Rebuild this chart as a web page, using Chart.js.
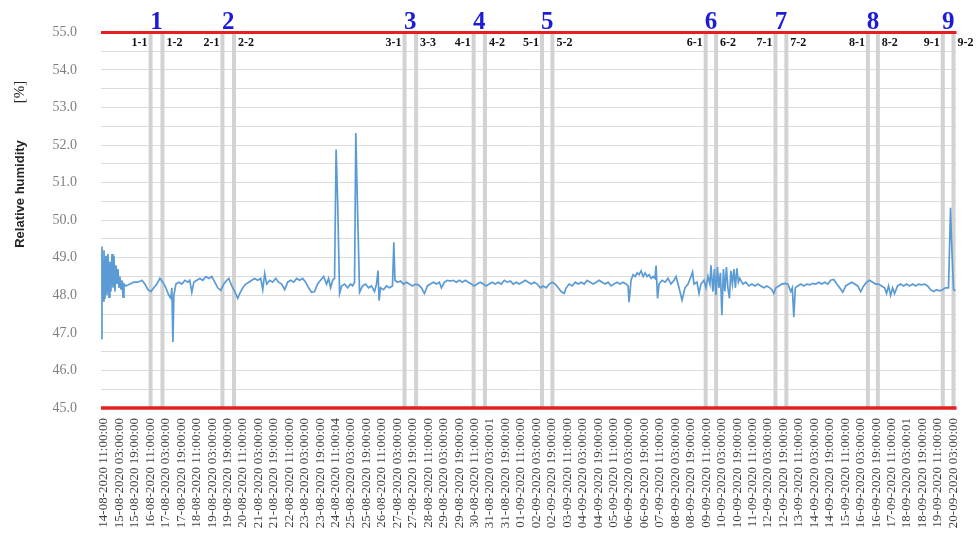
<!DOCTYPE html>
<html lang="en">
<head>
<meta charset="UTF-8">
<title>Relative humidity</title>
<script src="https://cdn.jsdelivr.net/npm/chart.js"></script>
<style>
  body, html {
    margin: 0;
    background: #fff;
  }
  .wrap {
    position: relative;
    width: 979px;
    height: 541px;
  }
</style>
</head>
<body>
<div class="wrap">
  <canvas id="rhChart"></canvas>
</div>

<script>
// x in hours after 14-08-2020 11:00, one tick label every 16 h
var tickLabels = [
  '14-08-2020 11:00:00', '15-08-2020 03:00:00', '15-08-2020 19:00:00', '16-08-2020 11:00:00',
  '17-08-2020 03:00:00', '17-08-2020 19:00:00', '18-08-2020 11:00:00', '19-08-2020 03:00:00',
  '19-08-2020 19:00:00', '20-08-2020 11:00:00', '21-08-2020 03:00:00', '21-08-2020 19:00:00',
  '22-08-2020 11:00:00', '23-08-2020 03:00:00', '23-08-2020 19:00:00', '24-08-2020 11:00:04',
  '25-08-2020 03:00:00', '25-08-2020 19:00:00', '26-08-2020 11:00:00', '27-08-2020 03:00:00',
  '27-08-2020 19:00:00', '28-08-2020 11:00:00', '29-08-2020 03:00:00', '29-08-2020 19:00:00',
  '30-08-2020 11:00:00', '31-08-2020 03:00:01', '31-08-2020 19:00:00', '01-09-2020 11:00:00',
  '02-09-2020 03:00:00', '02-09-2020 19:00:00', '03-09-2020 11:00:00', '04-09-2020 03:00:00',
  '04-09-2020 19:00:00', '05-09-2020 11:00:00', '06-09-2020 03:00:00', '06-09-2020 19:00:00',
  '07-09-2020 11:00:00', '08-09-2020 03:00:00', '08-09-2020 19:00:00', '09-09-2020 11:00:00',
  '10-09-2020 03:00:00', '10-09-2020 19:00:00', '11-09-2020 11:00:00', '12-09-2020 03:00:00',
  '12-09-2020 19:00:00', '13-09-2020 11:00:00', '14-09-2020 03:00:00', '14-09-2020 19:00:00',
  '15-09-2020 11:00:00', '16-09-2020 03:00:00', '16-09-2020 19:00:00', '17-09-2020 11:00:00',
  '18-09-2020 03:00:01', '18-09-2020 19:00:00', '19-09-2020 11:00:00', '20-09-2020 03:00:00'
];
var tickStepHours = 16;

var hours = [
  -3.1, -2.1, -1.0, 0, 1.0, 2.1, 3.1, 4.1, 5.2, 6.2,
  7.2, 8.3, 9.3, 10.3, 11.4, 12.4, 13.4, 14.5, 15.5, 16.5,
  17.6, 18.6, 19.7, 20.7,
  22.8, 26.9, 31.0, 35.2, 39.3, 42.4, 45.5, 48.6, 51.7, 54.8,
  57.9, 61.0, 64.1, 67.2, 69.3, 70.3, 71.4, 72.4, 74.5, 77.6,
  80.7, 83.8, 86.9, 88.9, 91.0, 93.1, 96.2, 99.3, 102.4, 105.5,
  108.6, 111.7, 114.8, 117.9, 121.0, 124.1, 127.2, 129.3, 132.4, 135.5,
  138.6, 140.7, 143.8, 146.9, 150.0, 153.1, 156.2, 159.3, 162.4, 164.5,
  166.5, 168.6, 171.7, 174.8, 177.9, 181.0, 184.1, 187.2, 190.3, 193.4,
  196.5, 199.6, 202.7, 205.8, 208.9, 212.0, 215.1, 218.2, 221.3, 224.4,
  227.5, 230.6, 232.7, 234.8, 236.9, 238.9, 240.5, 242.1, 244.1, 246.2,
  249.3, 252.4, 255.5, 257.6, 259.6, 260.9, 262.7, 264.8, 267.9, 271.0,
  274.1, 277.2, 280.3, 282.4, 283.9, 285.0, 286.5, 289.6, 292.7, 295.8,
  298.9, 300.3, 301.5,
  304.1, 307.2, 310.3, 313.4, 316.5, 319.6, 322.7, 325.8, 328.9, 332.0,
  335.1, 338.2, 341.3, 344.4, 347.5, 349.6, 352.7, 355.8, 358.9, 362.0,
  365.1, 368.2, 371.3, 374.4, 377.5, 380.6, 383.6, 386.7, 389.8, 392.9,
  396.0, 399.1, 402.2, 405.3, 408.5, 411.7, 414.8, 417.9, 421.0, 424.1,
  427.2, 430.3, 433.4, 436.5, 439.6, 442.7, 445.8, 448.9, 452.0, 455.1,
  458.2, 461.3, 464.4, 467.5, 470.6, 473.7, 476.8, 478.9, 482.0, 485.1,
  488.2, 491.3, 494.4, 497.5, 500.6, 503.7, 506.8, 509.9, 513.0, 516.1,
  519.2, 522.3, 525.4, 528.5, 531.6, 534.7, 537.8, 540.9, 543.0, 544.0,
  546.1, 548.2, 550.3, 552.4, 554.4, 556.5, 558.6, 560.7, 562.7, 564.8,
  566.9, 568.9, 570.9, 572.0, 573.5, 575.1, 578.2, 581.3, 584.4, 587.5,
  590.6, 592.7, 595.8, 598.9,
  602.0, 605.1, 608.2, 609.8, 611.3, 614.4, 616.5, 618.5, 621.6, 623.7,
  625.8, 627.8, 628.9, 630.9, 632.5, 634.0, 635.6, 637.1, 638.7, 640.2,
  641.8, 643.3, 644.9, 646.4, 648.0, 649.5, 651.1, 652.6, 654.2, 655.7,
  657.3, 658.8, 661.9, 665.0, 668.2, 671.3, 674.4, 677.5, 680.6, 683.7,
  686.8, 689.9, 692.0, 694.0, 696.1, 699.2, 702.3, 705.4, 708.5, 711.6,
  713.2, 714.7, 716.3, 718.9, 722.0, 725.1, 728.2, 731.3, 734.4, 737.5,
  740.6, 743.7, 746.8, 749.9, 753.0, 756.1, 759.2, 762.3, 765.4, 768.5,
  771.6, 774.7, 777.8, 780.9, 784.0, 787.1, 790.2, 793.3, 796.4, 799.5,
  802.6, 805.7, 808.8, 810.8, 812.9, 815.0, 817.1, 819.1, 822.2, 825.3,
  828.5, 831.6, 834.7, 837.8, 840.9, 844.0, 847.1, 850.2, 853.3, 856.4,
  859.5, 862.6, 865.7, 868.8, 871.9, 875.0, 877.1, 878.1, 880.2, 882.3
];

var relHumidity = [
  46.85, 49.3, 47.85, 49.2, 47.9, 49.05, 48.0, 49.1, 47.95, 48.9,
  48.1, 49.1, 48.2, 49.05, 48.1, 48.8, 48.3, 48.7, 48.2, 48.5,
  48.15, 48.4, 47.95, 48.3,
  48.25, 48.3, 48.35, 48.35, 48.4, 48.3, 48.15, 48.1, 48.2, 48.3,
  48.45, 48.35, 48.2, 48.0, 47.92, 48.2, 46.76, 48.0, 48.3, 48.35,
  48.3, 48.4, 48.35, 48.4, 48.08, 48.35, 48.4, 48.45, 48.4, 48.5,
  48.45, 48.5, 48.35, 48.2, 48.13, 48.3, 48.4, 48.45, 48.25, 48.1,
  47.92, 48.05, 48.2, 48.3, 48.35, 48.4, 48.45, 48.4, 48.45, 48.15,
  48.58, 48.3, 48.4, 48.35, 48.45, 48.35, 48.3, 48.15, 48.35, 48.4,
  48.35, 48.45, 48.4, 48.45, 48.35, 48.2, 48.08, 48.1, 48.3, 48.4,
  48.5, 48.3, 48.45, 48.2, 48.4, 48.45, 51.88, 50.5, 48.05, 48.25,
  48.3, 48.2, 48.3, 48.25, 48.35, 52.32, 50.3, 48.08, 48.25, 48.3,
  48.2, 48.25, 48.1, 48.3, 48.66, 47.86, 48.2, 48.15, 48.25, 48.2,
  48.25, 49.41, 48.4,
  48.35, 48.38, 48.3, 48.35, 48.3, 48.25, 48.3, 48.28, 48.2, 48.05,
  48.25, 48.3, 48.35, 48.3, 48.35, 48.2, 48.35, 48.4, 48.38, 48.4,
  48.35, 48.4, 48.35, 48.4, 48.35, 48.3, 48.25, 48.3, 48.35, 48.3,
  48.25, 48.3, 48.35, 48.3, 48.35, 48.3, 48.4, 48.35, 48.38, 48.3,
  48.35, 48.3, 48.35, 48.4, 48.35, 48.3, 48.35, 48.3, 48.2, 48.25,
  48.2, 48.3, 48.35, 48.3, 48.2, 48.1, 48.05, 48.2, 48.3, 48.25,
  48.35, 48.3, 48.35, 48.3, 48.4, 48.35, 48.3, 48.35, 48.4, 48.35,
  48.3, 48.35, 48.25, 48.3, 48.35, 48.3, 48.35, 48.3, 48.25, 47.82,
  48.4, 48.55, 48.5, 48.6, 48.55, 48.65, 48.5, 48.6, 48.5, 48.55,
  48.45, 48.5, 48.45, 48.79, 47.92, 48.3, 48.4, 48.35, 48.45, 48.3,
  48.4, 48.5, 48.2, 47.87,
  48.2, 48.3, 48.5, 48.62, 48.3, 48.35, 48.05, 48.3, 48.4, 48.2,
  48.5, 48.3, 48.8, 48.1, 48.7, 48.0, 48.75, 48.2, 48.6, 47.47,
  48.7, 48.1, 48.75, 48.2, 47.92, 48.65, 48.3, 48.7, 48.2, 48.72,
  48.35, 48.45, 48.3, 48.35, 48.25, 48.3, 48.25, 48.3, 48.25, 48.2,
  48.25, 48.2, 48.15, 48.05, 48.2, 48.25, 48.3, 48.32, 48.3, 48.1,
  48.2, 47.42, 48.2, 48.25, 48.3, 48.25, 48.3, 48.28, 48.32, 48.3,
  48.35, 48.3, 48.35, 48.3, 48.4, 48.42, 48.3, 48.2, 48.08, 48.25,
  48.3, 48.35, 48.3, 48.25, 48.1, 48.25, 48.35, 48.4, 48.35, 48.3,
  48.3, 48.25, 48.2, 48.05, 48.25, 48.0, 48.2, 48.05, 48.25, 48.3,
  48.25, 48.3, 48.25, 48.3, 48.25, 48.3, 48.28, 48.3, 48.25, 48.15,
  48.1, 48.15, 48.12, 48.15, 48.2, 48.2, 50.33, 49.5, 48.15, 48.12
];

// grey marker lines (pairs), their names and the group numbers on top
var markerHours = [48.3, 60.6, 122.7, 134.7, 311.4, 323.4, 383.0, 394.7, 453.8,
                   464.6, 623.4, 634.2, 695.7, 707.0, 791.5, 801.8, 869.1, 880.2];
var markerNames = ['1-1', '1-2', '2-1', '2-2', '3-1', '3-3', '4-1', '4-2', '5-1',
                   '5-2', '6-1', '6-2', '7-1', '7-2', '8-1', '8-2', '9-1', '9-2'];
var groupNames = ['1', '2', '3', '4', '5', '6', '7', '8', '9'];

var limitHigh = 55;
var limitLow = 45;

var lineData = hours.map(function(h, i) { return {x: h, y: relHumidity[i]}; });

var markerData = [];
markerHours.forEach(function(h) {
  markerData.push({x: h, y: limitLow}, {x: h, y: limitHigh}, {x: h, y: null});
});

var serif = '"Liberation Serif", "Times New Roman", serif';

var overlay = {
  id: 'overlay',
  afterDatasetsDraw: function(chart) {
    var ctx = chart.ctx, area = chart.chartArea;
    var x = chart.scales.x, y = chart.scales.y;
    ctx.save();
    // red limit lines
    ctx.strokeStyle = '#e3211f';
    [[limitHigh, 3], [limitLow, 3.5]].forEach(function(l) {
      var py = y.getPixelForValue(l[0]);
      ctx.lineWidth = l[1];
      ctx.beginPath();
      ctx.moveTo(area.left, py);
      ctx.lineTo(area.right, py);
      ctx.stroke();
    });
    // names next to the grey lines
    ctx.fillStyle = '#111';
    ctx.font = 'bold 12px ' + serif;
    ctx.textBaseline = 'middle';
    var topY = y.getPixelForValue(limitHigh);
    markerHours.forEach(function(h, i) {
      var px = x.getPixelForValue(h);
      if (i % 2 === 0) {
        ctx.textAlign = 'right';
        ctx.fillText(markerNames[i], px - 3, topY + 11);
      } else {
        ctx.textAlign = 'left';
        ctx.fillText(markerNames[i], px + 4, topY + 11);
      }
    });
    // group numbers
    ctx.fillStyle = '#1c1cd8';
    ctx.font = 'bold 25px ' + serif;
    ctx.textAlign = 'center';
    ctx.textBaseline = 'alphabetic';
    groupNames.forEach(function(g, i) {
      var mid = (x.getPixelForValue(markerHours[2 * i]) + x.getPixelForValue(markerHours[2 * i + 1])) / 2;
      ctx.fillText(g, mid, topY - 3);
    });
    ctx.restore();
  },
  afterDraw: function(chart) {
    var ctx = chart.ctx;
    ctx.save();
    ctx.translate(20, 0);
    ctx.rotate(-Math.PI / 2);
    ctx.textAlign = 'center';
    ctx.textBaseline = 'middle';
    ctx.fillStyle = '#262626';
    ctx.font = 'bold 13px "Liberation Sans", Arial, sans-serif';
    ctx.fillText('Relative humidity', -194, 0);
    ctx.font = '15px ' + serif;
    ctx.fillText('[%]', -92, 0);
    ctx.restore();
  }
};

new Chart(document.getElementById('rhChart'), {
  type: 'line',
  data: {
    datasets: [{
      label: 'Relative humidity',
      data: lineData,
      borderColor: '#5b9bd5',
      borderWidth: 1.7,
      pointRadius: 0,
      tension: 0,
      order: 1
    }, {
      label: 'markers',
      data: markerData,
      borderColor: '#d2d2d2',
      borderWidth: 4,
      pointRadius: 0,
      spanGaps: false,
      order: 2
    }]
  },
  options: {
    responsive: true,
    maintainAspectRatio: false,
    animation: false,
    layout: { padding: { top: 31, right: 19, left: 0, bottom: 0 } },
    plugins: {
      legend: { display: false },
      tooltip: { enabled: false }
    },
    scales: {
      x: {
        type: 'linear',
        min: -3.1,
        max: 883.3,
        afterBuildTicks: function(scale) {
          scale.ticks = tickLabels.map(function(_, i) { return {value: i * tickStepHours}; });
        },
        afterFit: function(scale) { scale.height = 133; },
        grid: { display: false, drawTicks: false },
        border: { display: false },
        ticks: {
          autoSkip: false,
          minRotation: 90,
          maxRotation: 90,
          padding: 10,
          color: '#404040',
          font: { family: serif, size: 13 },
          callback: function(v, i) { return tickLabels[i]; }
        }
      },
      y: {
        min: limitLow,
        max: limitHigh,
        afterFit: function(scale) { scale.width = 101; },
        grid: { color: '#dcdcdc', drawTicks: false },
        border: { display: false },
        ticks: {
          stepSize: 0.5,
          autoSkip: false,
          padding: 24,
          color: '#7f7f7f',
          font: { family: serif, size: 14 },
          callback: function(v) { return v % 1 === 0 ? v.toFixed(1) : ''; }
        }
      }
    }
  },
  plugins: [overlay]
});
</script>
</body>
</html>
